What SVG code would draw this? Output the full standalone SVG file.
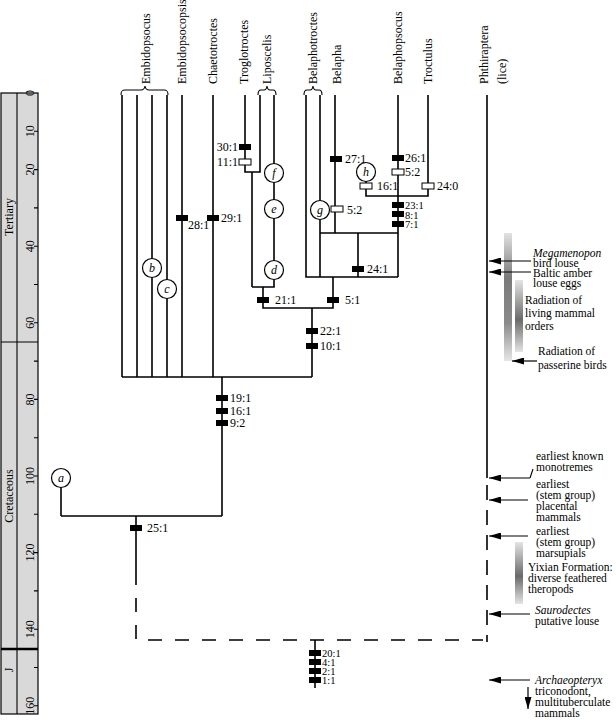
<svg xmlns="http://www.w3.org/2000/svg" width="616" height="720" viewBox="0 0 616 720">
<style>
text{font-family:"Liberation Serif","Times New Roman",serif;font-size:12px;fill:#000}
.ln{stroke:#000;stroke-width:1.6;fill:none}
.thin{stroke:#000;stroke-width:1.1;fill:none}
.dl{stroke:#000;stroke-width:1.6;fill:none;stroke-dasharray:14 13}
.dv{stroke:#000;stroke-width:1.6;fill:none;stroke-dasharray:15 10}
.bm{fill:#000}
.wm{fill:#fff;stroke:#000;stroke-width:1}
.nd{fill:#fff;stroke:#000;stroke-width:1.2}
.it{font-style:italic}
.an{font-size:11.5px}
.st{font-size:10.5px}
.ar{stroke:#000;stroke-width:1.2;fill:none;marker-end:url(#ah)}
</style>
<defs>
<marker id="ah" viewBox="0 0 12 7" refX="12" refY="3.5" markerWidth="12" markerHeight="7" markerUnits="userSpaceOnUse" orient="auto"><path d="M0,0 L12,3.5 L0,7 z" fill="#000"/></marker>
<linearGradient id="g1" x1="0" y1="0" x2="0" y2="1"><stop offset="0" stop-color="#e2e2e2"/><stop offset="0.35" stop-color="#7a7a7a"/><stop offset="0.7" stop-color="#8a8a8a"/><stop offset="1" stop-color="#e6e6e6"/></linearGradient>
<linearGradient id="g2" x1="0" y1="0" x2="0" y2="1"><stop offset="0" stop-color="#e4e4e4"/><stop offset="0.55" stop-color="#6a6a6a"/><stop offset="1" stop-color="#e4e4e4"/></linearGradient>
</defs>

<g id="time-axis">
<rect x="1" y="93" width="37" height="621" fill="#d9d9d9" stroke="#000" stroke-width="1.2"/>
<path class="thin" d="M17,93 V714"/>
<path class="thin" d="M1,342 H38"/>
<path stroke="#000" stroke-width="2.6" d="M1,649 H38"/>
<path class="thin" d="M34,131.3H38M34,169.6H38M34,207.9H38M34,246.2H38M34,284.5H38M34,322.8H38M34,361.1H38M34,399.4H38M34,437.7H38M34,476H38M34,514.3H38M34,552.6H38M34,590.9H38M34,629.2H38M34,667.5H38M34,705.8H38"/>
<g text-anchor="middle">
<text transform="translate(34,93) rotate(-90)">0</text>
<text transform="translate(34,131.3) rotate(-90)">10</text>
<text transform="translate(34,169.6) rotate(-90)">20</text>
<text transform="translate(34,246.2) rotate(-90)">40</text>
<text transform="translate(34,322.8) rotate(-90)">60</text>
<text transform="translate(34,399.4) rotate(-90)">80</text>
<text transform="translate(34,476) rotate(-90)">100</text>
<text transform="translate(34,552.6) rotate(-90)">120</text>
<text transform="translate(34,629.2) rotate(-90)">140</text>
<text transform="translate(34,705.8) rotate(-90)">160</text>
<text transform="translate(13,217) rotate(-90)">Tertiary</text>
<text transform="translate(13,496) rotate(-90)">Cretaceous</text>
<text transform="translate(13,670) rotate(-90)">J</text>
</g>
</g>

<g id="connectors">
<path class="ln" d="M122,95V377M137,95V377M152,95V377M167,95V377M182,95V377M213,95V377M122,377H312M312,308V377M222,377V516M61,487V516M61,516H222M136,516V585"/>
<path class="ln" d="M245,95V172H260V95M252,172V287M274,95V287H252M263,287V308H333V277"/>
<path class="ln" d="M306,95V277H398M320,95V277M320,233H398M358,233V277M335,95V233M398,95V277M428,95V196H366V181M487,95V478"/>
<path class="dv" d="M487,485V642"/>
<path class="dl" d="M136,598V640H483"/>
<path class="ln" d="M315,640V688"/>
<path class="thin" d="M121,95C121,91 122,90 125,90L141,90C143.5,90 144.5,89 145,86C145.5,89 146.5,90 149,90L164,90C167,90 168,91 168,95"/>
<path class="thin" d="M258,95C258,91 259,90 261,90L264,90C266,90 266.6,89 267,86C267.4,89 268,90 270,90L273,90C275,90 276,91 276,95"/>
<path class="thin" d="M304,95C304,91 305,90 307,90L310,90C312,90 312.6,89 313,86C313.4,89 314,90 316,90L319,90C321,90 322,91 322,95"/>
</g>

<g id="taxa">
<g id="t-embidopsocus"><text transform="translate(150,84) rotate(-90)">Embidopsocus</text></g>
<g id="t-embidopsocopsis"><text transform="translate(186,84) rotate(-90)">Embidopsocopsis</text></g>
<g id="t-chaetotroctes"><text transform="translate(217,84) rotate(-90)">Chaetotroctes</text></g>
<g id="t-troglotroctes"><text transform="translate(248,84) rotate(-90)">Troglotroctes</text></g>
<g id="t-liposcelis"><text transform="translate(271,84) rotate(-90)">Liposcelis</text></g>
<g id="t-belaphotroctes"><text transform="translate(317,84) rotate(-90)">Belaphotroctes</text></g>
<g id="t-belapha"><text transform="translate(341,84) rotate(-90)">Belapha</text></g>
<g id="t-belaphopsocus"><text transform="translate(402,84) rotate(-90)">Belaphopsocus</text></g>
<g id="t-troctulus"><text transform="translate(432,84) rotate(-90)">Troctulus</text></g>
<g id="t-phthiraptera"><text transform="translate(488,84) rotate(-90)">Phthiraptera</text><text transform="translate(506,84) rotate(-90)">(lice)</text></g>
</g>

<g id="nodes" text-anchor="middle">
<g id="n-a"><circle class="nd" cx="61" cy="478" r="9.5"/><text class="it" x="61" y="482">a</text></g>
<g id="n-b"><circle class="nd" cx="152" cy="268" r="9.5"/><text class="it" x="152" y="272">b</text></g>
<g id="n-c"><circle class="nd" cx="167" cy="289" r="9.5"/><text class="it" x="167" y="293">c</text></g>
<g id="n-d"><circle class="nd" cx="274" cy="270" r="9.5"/><text class="it" x="274" y="274">d</text></g>
<g id="n-e"><circle class="nd" cx="274" cy="209" r="9.5"/><text class="it" x="274" y="213">e</text></g>
<g id="n-f"><circle class="nd" cx="274" cy="173" r="9.5"/><text class="it" x="274" y="177">f</text></g>
<g id="n-g"><circle class="nd" cx="320" cy="210" r="9.5"/><text class="it" x="320" y="214">g</text></g>
<g id="n-h"><circle class="nd" cx="366" cy="172" r="9.5"/><text class="it" x="366" y="176">h</text></g>
</g>

<g id="characters">
<rect class="bm" x="239" y="144" width="12" height="6"/><text x="238" y="151" text-anchor="end">30:1</text>
<rect class="wm" x="239" y="159" width="12" height="6"/><text x="238" y="166" text-anchor="end">11:1</text>
<rect class="bm" x="176" y="215" width="12" height="6"/><text x="188" y="229">28:1</text>
<rect class="bm" x="207" y="215" width="12" height="6"/><text x="221" y="222">29:1</text>
<rect class="bm" x="257" y="297" width="12" height="6"/><text x="275" y="304">21:1</text>
<rect class="bm" x="327" y="297" width="12" height="6"/><text x="345" y="304">5:1</text>
<rect class="bm" x="306" y="328" width="12" height="6"/><text x="320" y="335">22:1</text>
<rect class="bm" x="306" y="343" width="12" height="6"/><text x="320" y="350">10:1</text>
<rect class="bm" x="216" y="395" width="12" height="6"/><text x="230" y="402">19:1</text>
<rect class="bm" x="216" y="408" width="12" height="6"/><text x="230" y="415">16:1</text>
<rect class="bm" x="216" y="420" width="12" height="6"/><text x="230" y="427">9:2</text>
<rect class="bm" x="130" y="525" width="12" height="6"/><text x="147" y="532">25:1</text>
<rect class="bm" x="330" y="156" width="12" height="6"/><text x="345" y="163">27:1</text>
<rect class="wm" x="331" y="206" width="12" height="6"/><text x="347" y="214">5:2</text>
<rect class="bm" x="392" y="155" width="12" height="6"/><text x="405" y="162">26:1</text>
<rect class="wm" x="392" y="169" width="12" height="6"/><text x="405" y="176">5:2</text>
<rect class="wm" x="360" y="183" width="12" height="6"/><text x="377" y="190">16:1</text>
<rect class="wm" x="422" y="183" width="12" height="6"/><text x="437" y="190">24:0</text>
<rect class="bm" x="392" y="202" width="12" height="6"/><text class="st" x="405" y="209">23:1</text>
<rect class="bm" x="392" y="211" width="12" height="6"/><text class="st" x="405" y="218.5">8:1</text>
<rect class="bm" x="392" y="221" width="12" height="6"/><text class="st" x="405" y="228">7:1</text>
<rect class="bm" x="352" y="266" width="12" height="6"/><text x="367" y="273">24:1</text>
<rect class="bm" x="309" y="650" width="12" height="6"/><text class="st" x="322" y="656.5">20:1</text>
<rect class="bm" x="309" y="659" width="12" height="6"/><text class="st" x="322" y="665.5">4:1</text>
<rect class="bm" x="309" y="668" width="12" height="6"/><text class="st" x="322" y="674.5">2:1</text>
<rect class="bm" x="309" y="677" width="12" height="6"/><text class="st" x="322" y="683.5">1:1</text>
</g>

<g id="events">
<rect x="504" y="233" width="8" height="128" fill="url(#g1)"/>
<rect x="515" y="280" width="8" height="72" fill="url(#g2)"/>
<rect x="515" y="542" width="8" height="62" fill="url(#g2)"/>
<path class="ar" d="M531,261H489"/>
<path class="ar" d="M531,272H489"/>
<path class="ar" d="M537,361H512"/>
<path class="ar" d="M530,478H489"/>
<path class="thin" d="M530,478L533,469"/>
<path class="ar" d="M528,500H489"/>
<path class="ar" d="M528,536H489"/>
<path class="ar" d="M530,614H489"/>
<path class="ar" d="M530,680H489"/>
<path class="ar" d="M528,687V709"/>
<text class="it an" x="533" y="257">Megamenopon</text>
<text class="an" x="533" y="267">bird louse</text>
<text class="an" x="533" y="277">Baltic amber</text>
<text class="an" x="533" y="287">louse eggs</text>
<text class="an" x="525" y="304">Radiation of</text>
<text class="an" x="525" y="317">living mammal</text>
<text class="an" x="525" y="330">orders</text>
<text class="an" x="538" y="355">Radiation of</text>
<text class="an" x="538" y="369">passerine birds</text>
<text class="an" x="536" y="460">earliest known</text>
<text class="an" x="536" y="471">monotremes</text>
<text class="an" x="536" y="488">earliest</text>
<text class="an" x="536" y="499">(stem group)</text>
<text class="an" x="536" y="510">placental</text>
<text class="an" x="536" y="521">mammals</text>
<text class="an" x="536" y="535">earliest</text>
<text class="an" x="536" y="546">(stem group)</text>
<text class="an" x="536" y="557">marsupials</text>
<text class="an" x="528" y="571">Yixian Formation:</text>
<text class="an" x="528" y="582">diverse feathered</text>
<text class="an" x="528" y="593">theropods</text>
<text class="it an" x="535" y="614">Saurodectes</text>
<text class="an" x="535" y="625">putative louse</text>
<text class="it an" x="535" y="684">Archaeopteryx</text>
<text class="an" x="535" y="695">triconodont,</text>
<text class="an" x="535" y="706">multituberculate</text>
<text class="an" x="535" y="717">mammals</text>
</g>
</svg>
